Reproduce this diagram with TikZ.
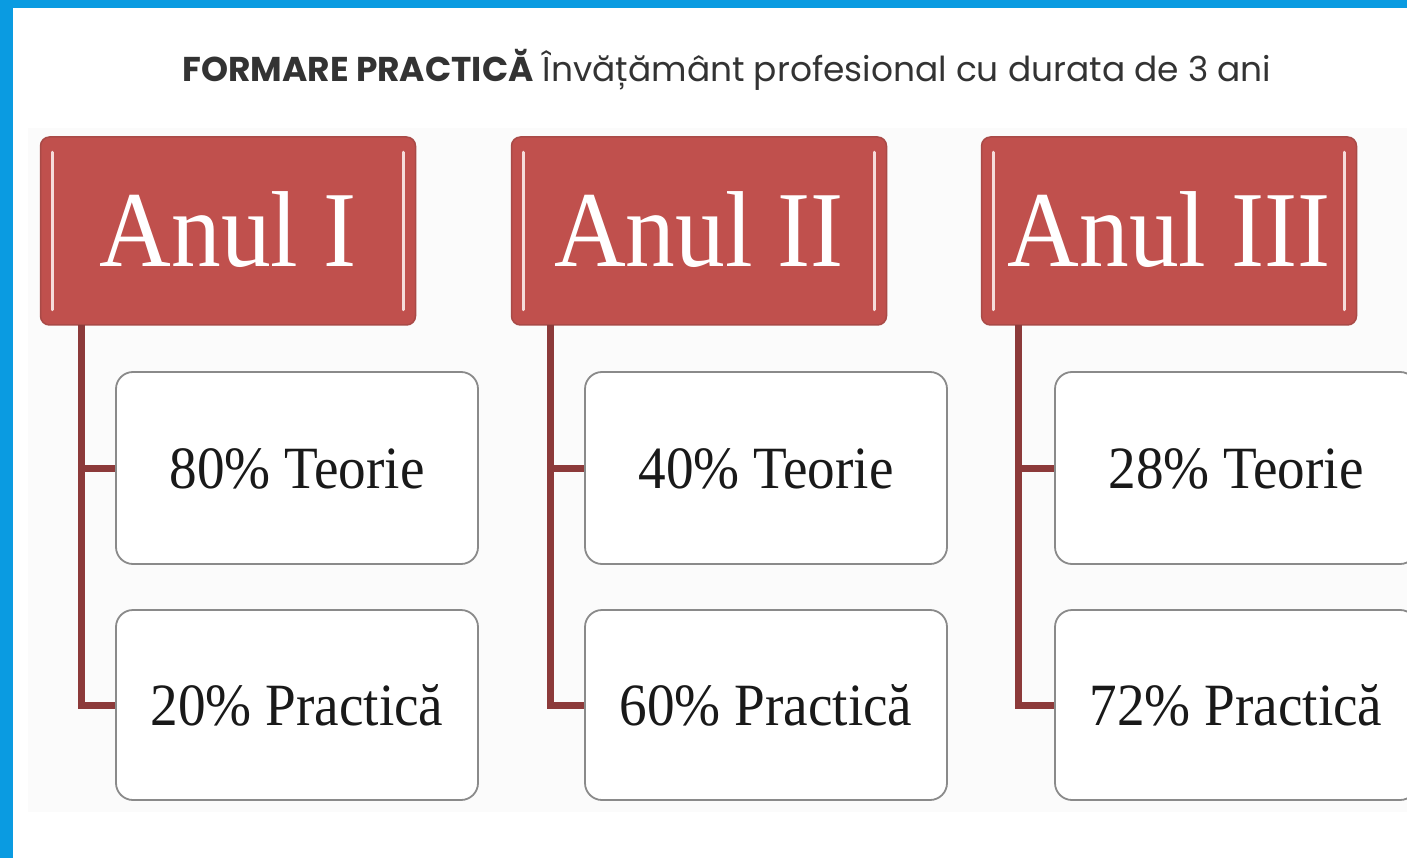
\documentclass[tikz,border=0pt]{standalone}
\usepackage{fontspec}
\setmainfont{Liberation Serif}
\newfontfamily\serifc[FakeStretch=0.92]{Liberation Serif}
\newfontfamily\titlef{Poppins}
\definecolor{framebl}{HTML}{0A9BE1}
\definecolor{hdred}{HTML}{C0504D}
\definecolor{hdedge}{HTML}{A94A47}
\definecolor{hdlight}{HTML}{F6DCDA}
\definecolor{linkred}{HTML}{8C3A3A}
\definecolor{boxgray}{HTML}{8A8A8A}
\definecolor{tint}{HTML}{FBFBFB}
\begin{document}
\begin{tikzpicture}[x=1pt,y=-1pt,
  yearbox/.style={rectangle, rounded corners=9pt, fill=hdred, draw=hdedge, line width=1.5pt,
    minimum width=375pt, minimum height=188pt, text=white,
    font=\serifc\fontsize{108}{108}\selectfont, text height=72pt, text depth=0pt, inner sep=0pt},
  itembox/.style={rectangle, rounded corners=17pt, fill=white, draw=boxgray, line width=1.8pt,
    minimum width=362pt, text=black!90,
    font=\serifc\fontsize{60}{60}\selectfont, text height=40pt, text depth=0pt, inner sep=0pt},
  link/.style={draw=linkred, line width=7pt},
  glint/.style={draw=hdlight, line width=3pt, line cap=round}]
\useasboundingbox (0,0) rectangle (1407,858);
\clip (0,0) rectangle (1407,858);
\fill[white] (0,0) rectangle (1407,858);
\fill[tint] (28,128) rectangle (1407,812);
\fill[framebl] (0,0) rectangle (13,858);
\fill[framebl] (0,0) rectangle (1407,8);

\node[anchor=base, font=\titlef\fontsize{34.4}{34.4}\selectfont, text=black!80] (title) at (727,82)
  {\textbf{FORMARE PRACTICĂ} Învățământ profesional cu durata de 3 ani};

% year headers
\node[yearbox] (Y1) at (228,231) {Anul I};
\node[yearbox] (Y2) at (699,231) {Anul II};
\node[yearbox] (Y3) at (1169,231) {Anul III};

% item boxes
\node[itembox, minimum height=192pt] (T1) at (297,468) {80\% Teorie};
\node[itembox, minimum height=190pt] (P1) at (297,705) {20\% Practică};
\node[itembox, minimum height=192pt] (T2) at (766,468) {40\% Teorie};
\node[itembox, minimum height=190pt] (P2) at (766,705) {60\% Practică};
\node[itembox, minimum height=192pt] (T3) at (1236,468) {28\% Teorie};
\node[itembox, minimum height=190pt] (P3) at (1236,705) {72\% Practică};

% header highlights
\foreach \y in {Y1,Y2,Y3}{
  \draw[glint] ([shift={(13,16)}]\y.north west) -- ([shift={(13,-16)}]\y.south west);
  \draw[glint] ([shift={(-13,16)}]\y.north east) -- ([shift={(-13,-16)}]\y.south east);
}

% connectors
\coordinate (c1) at (81,325);
\coordinate (c2) at (550,325);
\coordinate (c3) at (1018,325);
\draw[link] (c1) |- (P1.west);
\draw[link] (c1 |- T1.west) -- (T1.west);
\draw[link] (c2) |- (P2.west);
\draw[link] (c2 |- T2.west) -- (T2.west);
\draw[link] (c3) |- (P3.west);
\draw[link] (c3 |- T3.west) -- (T3.west);
\end{tikzpicture}
\end{document}
